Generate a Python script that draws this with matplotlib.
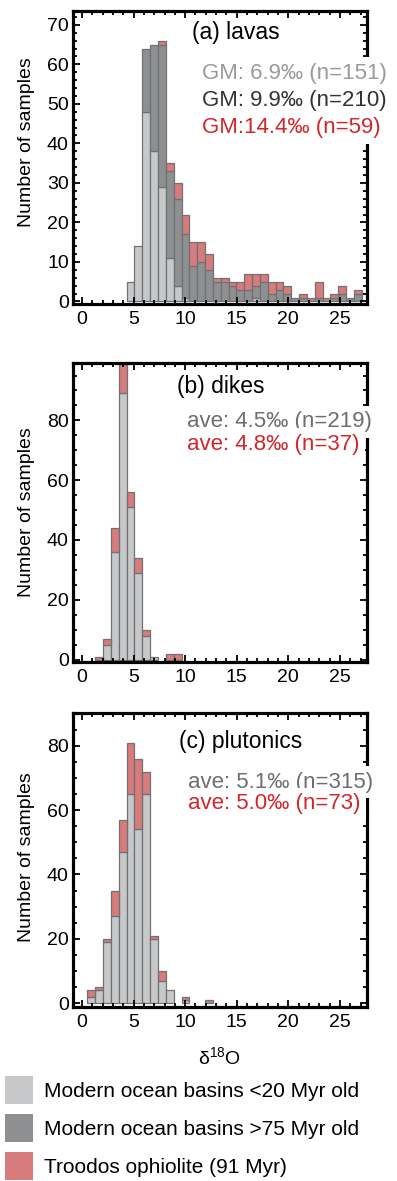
'''
    Histogramas de d18O para lavas, diques y plutónicas
'''
import numpy as np
import matplotlib.pyplot as plt
from matplotlib.ticker import MultipleLocator
from matplotlib.patches import Patch

plt.rcParams['font.family'] = ['Liberation Sans', 'DejaVu Sans']

# Intervalos comunes a los tres paneles
inicio_bins = 0.53
ancho_bin = 0.76

# (a) lavas: índice de intervalo y cantidad de muestras por grupo
indices_a = list(range(5, 35))
jovenes_a = [5, 14, 48, 38, 29, 11, 4, 1, 0, 0, 0, 0, 0, 0, 0,
             0, 1, 0, 0, 0, 0, 0, 0, 0, 0, 0, 0, 0, 0, 0]
viejos_a = [0, 0, 16, 27, 36, 22, 22, 16, 9, 10, 8, 5, 5, 4, 3,
            3, 3, 5, 2, 3, 2, 1, 1, 0, 1, 0, 1, 2, 1, 2]
troodos_a = [0, 0, 0, 0, 1, 2, 4, 5, 6, 5, 4, 1, 1, 1, 2,
             4, 3, 2, 3, 2, 2, 0, 1, 1, 4, 1, 1, 2, 0, 1]

# (b) diques
indices_b = list(range(1, 12))
jovenes_b = [0, 5, 36, 89, 51, 29, 8, 1, 0, 0, 0]
troodos_b = [1, 2, 8, 10, 5, 5, 2, 0, 0, 2, 2]

# (c) plutónicas
indices_c = list(range(0, 16))
jovenes_c = [2, 4, 19, 27, 47, 65, 54, 65, 20, 7, 4, 0, 1, 0, 0, 0]
troodos_c = [2, 1, 1, 8, 10, 16, 22, 7, 1, 3, 0, 0, 1, 0, 0, 1]

# Textos de cada panel
titulos = ['(a) lavas', '(b) dikes', '(c) plutonics']
textos_a = ['GM: 6.9‰ (n=151)', 'GM: 9.9‰ (n=210)', 'GM:14.4‰ (n=59)']
textos_b = ['ave: 4.5‰ (n=219)', 'ave: 4.8‰ (n=37)']
textos_c = ['ave: 5.1‰ (n=315)', 'ave: 5.0‰ (n=73)']
etiquetas_leyenda = ['Modern ocean basins <20 Myr old',
                     'Modern ocean basins >75 Myr old',
                     'Troodos ophiolite (91 Myr)']

# Colores
color_jov = '#c7c8ca'
color_vie = '#8e8f91'
color_tro = '#d87b7c'
borde = '#707173'
fondo_texto = dict(facecolor='white', edgecolor='none', pad=4)


def dibujar_apilado(ax, indices, series, colores):
    '''
        Dibuja las barras apiladas de un panel, sin las barras vacías
    '''
    izquierda = inicio_bins + ancho_bin*np.array(indices)
    base = np.zeros(len(indices))
    for valores, color in zip(series, colores):
        valores = np.array(valores, dtype=float)
        m = valores > 0
        ax.bar(izquierda[m], valores[m], width=ancho_bin, bottom=base[m],
               align='edge', color=color, edgecolor=borde, linewidth=0.9)
        base = base + valores


def formato_ejes(ax, ylim, paso_y, menor_y, pos_etiqueta):
    '''
        Marco grueso, marcas hacia adentro en los cuatro lados
    '''
    ax.set_xlim(-0.87, 27.6)
    ax.set_ylim(*ylim)
    ax.xaxis.set_major_locator(MultipleLocator(5))
    ax.xaxis.set_minor_locator(MultipleLocator(1))
    ax.yaxis.set_major_locator(MultipleLocator(paso_y))
    ax.yaxis.set_minor_locator(MultipleLocator(menor_y))
    ax.tick_params(which='both', direction='in', top=True, right=True,
                   width=1.3, labelsize=14, color='black')
    ax.tick_params(which='major', length=5)
    ax.tick_params(which='minor', length=3)
    ax.tick_params(axis='x', pad=5)
    ax.tick_params(axis='y', pad=3)
    for s in ax.spines.values():
        s.set_linewidth(2.3)
    ax.set_ylabel('Number of samples', fontsize=14)
    ax.yaxis.set_label_coords(-0.13, pos_etiqueta)


def escribir_textos(ax, titulo, pos_titulo, textos, x, ys, colores):
    '''
        Título del panel y los promedios, con fondo blanco que tapa el marco
    '''
    ax.text(pos_titulo[0], pos_titulo[1], titulo, transform=ax.transAxes,
            fontsize=16.5, va='center')
    for texto, y, c in zip(textos, ys, colores):
        ax.text(x, y, texto, transform=ax.transAxes, fontsize=16,
                va='center', color=c, clip_on=False, bbox=fondo_texto,
                zorder=5)


fig = plt.figure(figsize=(3.97, 11.81), dpi=100)
ax_a = fig.add_axes([0.1839, 0.7426, 0.7398, 0.2481])
ax_b = fig.add_axes([0.1839, 0.4395, 0.7398, 0.2534])
ax_c = fig.add_axes([0.1839, 0.1473, 0.7398, 0.2487])

dibujar_apilado(ax_a, indices_a, [jovenes_a, viejos_a, troodos_a],
                [color_jov, color_vie, color_tro])
dibujar_apilado(ax_b, indices_b, [jovenes_b, troodos_b],
                [color_jov, color_tro])
dibujar_apilado(ax_c, indices_c, [jovenes_c, troodos_c],
                [color_jov, color_tro])

formato_ejes(ax_a, (-0.63, 73.5), 10, 2, 0.551)
formato_ejes(ax_b, (-0.8, 99.3), 20, 5, 0.501)
formato_ejes(ax_c, (-1.2, 90.1), 20, 5, 0.511)

escribir_textos(ax_a, titulos[0], (0.404, 0.928), textos_a, 0.438,
                [0.788, 0.696, 0.601], ['#9a9a9a', '#333333', '#d3262b'])
escribir_textos(ax_b, titulos[1], (0.353, 0.920), textos_b, 0.387,
                [0.803, 0.727], ['#6e6e6e', '#d3262b'])
escribir_textos(ax_c, titulos[2], (0.360, 0.903), textos_c, 0.393,
                [0.765, 0.692], ['#6e6e6e', '#d3262b'])

ax_c.set_xlabel(r'$\mathregular{δ^{18}O}$', fontsize=14)
ax_c.xaxis.set_label_coords(0.5, -0.135)

# Leyenda al pie de la figura
manijas = [Patch(facecolor=color_jov), Patch(facecolor=color_vie),
           Patch(facecolor=color_tro)]
fig.legend(manijas, etiquetas_leyenda, loc='upper left',
           bbox_to_anchor=(5/397, 1 - 1076/1181), fontsize=15,
           frameon=False, handlelength=1.35, handleheight=1.69,
           handletextpad=0.5, labelspacing=0.49, borderpad=0,
           borderaxespad=0)

fig.savefig('out.png', dpi=100)
